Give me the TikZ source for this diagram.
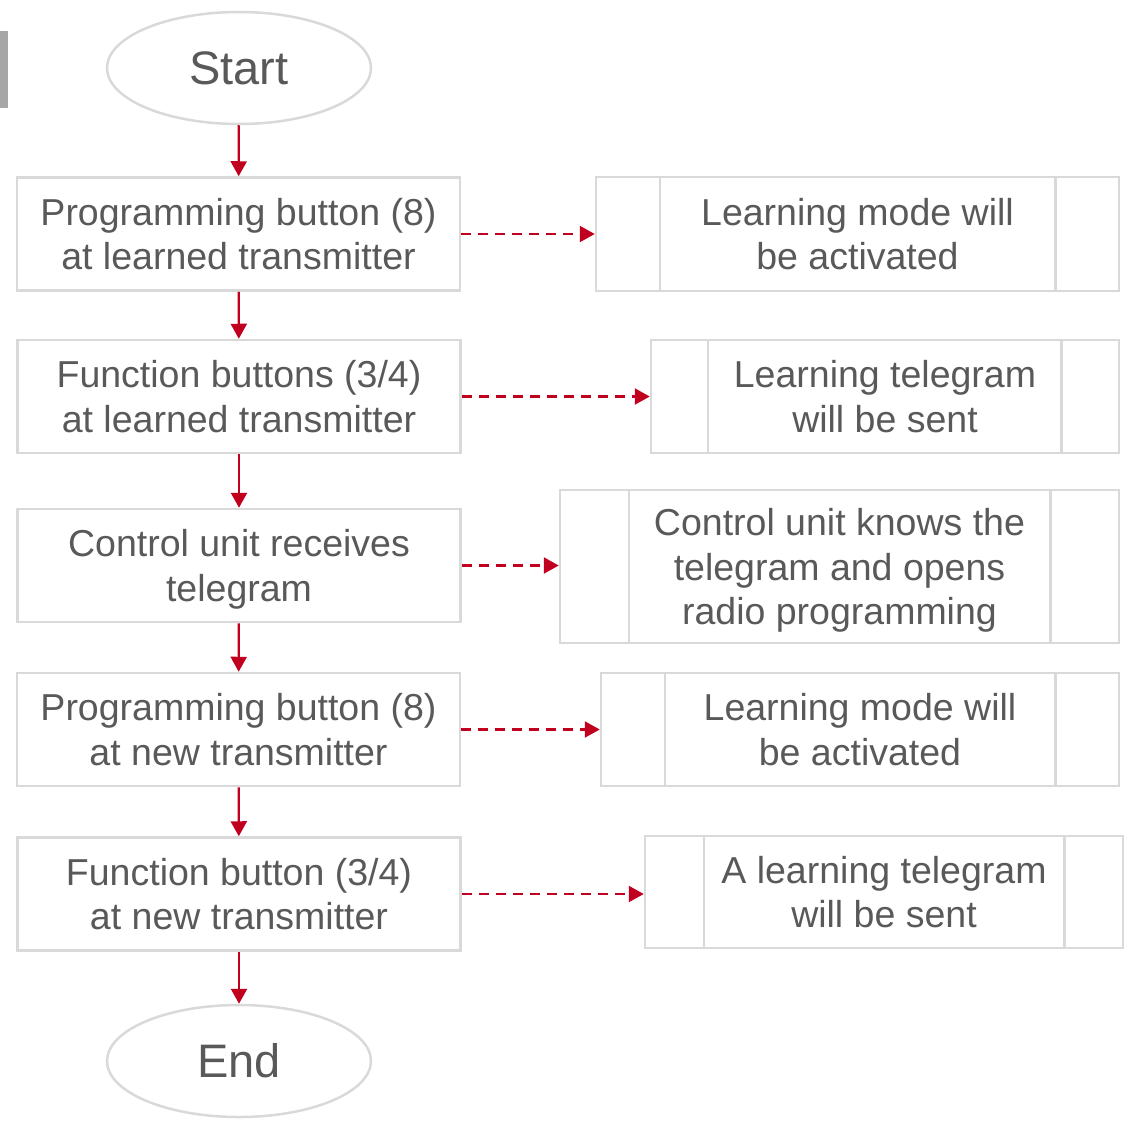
\documentclass[tikz,border=0pt]{standalone}
\usepackage{fontspec}
\setmainfont{Liberation Sans}
\usetikzlibrary{shapes.geometric,arrows.meta,calc}
\definecolor{frame}{HTML}{D9D9D9}
\definecolor{txt}{HTML}{595959}
\definecolor{arrred}{HTML}{C0001E}
\definecolor{barg}{HTML}{A6A6A6}
\begin{document}
\begin{tikzpicture}[x=1pt,y=-1pt,
  term/.style={ellipse,draw=frame,line width=2.5pt,minimum width=264pt,minimum height=112pt,inner sep=0pt,text=txt,font=\fontsize{47}{56}\selectfont},
  boxtext/.style={text=txt,align=center,inner sep=0pt,font=\fontsize{37.5}{44.5}\selectfont},
  stepbox/.style={rectangle,draw=frame,line width=2.5pt,minimum width=443pt,minimum height=113pt,boxtext},
  pproc/.style={rectangle,draw=frame,line width=2.5pt,boxtext},
  flow/.style={draw=arrred,line width=2.3pt,-{Triangle[length=15pt,width=16pt]}},
  dflow/.style={flow,dash pattern=on 10pt off 7pt},
  inner/.style={draw=frame,line width=2.5pt}]
\useasboundingbox (0,0) rectangle (1124,1124);
\fill[barg] (0,31) rectangle (8,108);
\node[term] (start) at (239,68) {Start};
\node[stepbox] (b1) at (238.5,234) {Programming button (8)\\at learned transmitter};
\node[stepbox] (b2) at (239,396.5) {Function buttons (3/4)\\at learned transmitter};
\node[stepbox,label={[boxtext,yshift=-4pt]center:{Control unit receives\\telegram}}] (b3) at (239,565.5) {};
\node[stepbox] (b4) at (238.5,729.5) {Programming button (8)\\at new transmitter};
\node[stepbox] (b5) at (239,894) {Function button (3/4)\\at new transmitter};
\node[term] (end) at (239,1061) {End};
\node[pproc,minimum width=523pt,minimum height=114pt] (r1) at (857.5,234) {Learning mode will\\be activated};
\node[pproc,minimum width=468pt,minimum height=113pt] (r2) at (885,396.5) {Learning telegram\\will be sent};
\node[pproc,minimum width=559pt,minimum height=153pt,label={[boxtext,yshift=-4pt]center:{Control unit knows the\\telegram and opens\\radio programming}}] (r3) at (839.5,566.5) {};
\node[pproc,minimum width=518pt,minimum height=113pt] (r4) at (860,729.5) {Learning mode will\\be activated};
\node[pproc,minimum width=478pt,minimum height=112pt] (r5) at (884,892) {A learning telegram\\will be sent};
\foreach \n/\a/\b in {r1/65/65, r2/58/59, r3/70/70, r4/65/65, r5/60/60}{
  \draw[inner] ([xshift=\a pt]\n.north west) -- ([xshift=\a pt]\n.south west);
  \draw[inner] ([xshift=-\b pt]\n.north east) -- ([xshift=-\b pt]\n.south east);
}
\draw[flow] (start) -- (b1);
\draw[flow] (b1) -- (b2);
\draw[flow] (b2) -- (b3);
\draw[flow] (b3) -- (b4);
\draw[flow] (b4) -- (b5);
\draw[flow] (b5) -- (end);
\draw[dflow] (b1.east) -- (r1.west);
\draw[dflow] (b2.east) -- (r2.west);
\draw[dflow] (b3.east) -- (r3.west |- b3.east);
\draw[dflow] (b4.east) -- (r4.west |- b4.east);
\draw[dflow] (b5.east) -- (r5.west |- b5.east);
\end{tikzpicture}
\end{document}
